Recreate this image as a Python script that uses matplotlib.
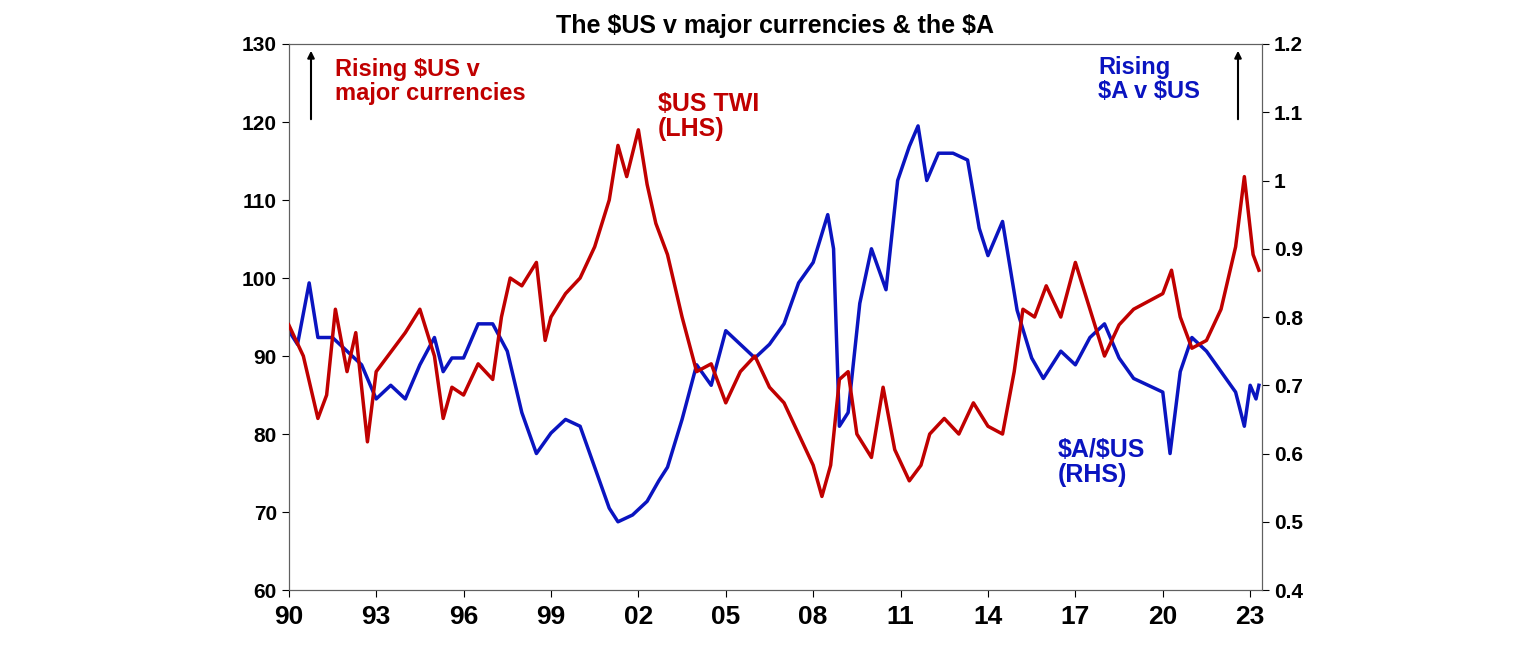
import matplotlib
matplotlib.use("Agg")
import matplotlib.pyplot as plt

twi_t = [1990.0,1990.5,1991.0,1991.3,1991.6,1992.0,1992.3,1992.7,1993.0,1993.4,1994.0,1994.5,1995.0,1995.3,1995.6,1996.0,1996.5,1997.0,1997.3,1997.6,1998.0,1998.5,1998.8,1999.0,1999.5,2000.0,2000.5,2001.0,2001.3,2001.6,2002.0,2002.3,2002.6,2003.0,2003.5,2004.0,2004.5,2005.0,2005.5,2006.0,2006.5,2007.0,2007.5,2008.0,2008.3,2008.6,2008.9,2009.2,2009.5,2010.0,2010.4,2010.8,2011.3,2011.7,2012.0,2012.5,2013.0,2013.5,2014.0,2014.5,2014.9,2015.2,2015.6,2016.0,2016.5,2017.0,2017.5,2018.0,2018.5,2019.0,2019.5,2020.0,2020.3,2020.6,2021.0,2021.5,2022.0,2022.5,2022.8,2023.1,2023.3]
twi_v = [94,90,82,85,96,88,93,79,88,90,93,96,90,82,86,85,89,87,95,100,99,102,92,95,98,100,104,110,117,113,119,112,107,103,95,88,89,84,88,90,86,84,80,76,72,76,87,88,80,77,86,78,74,76,80,82,80,84,81,80,88,96,95,99,95,102,96,90,94,96,97,98,101,95,91,92,96,104,113,103,101]

aud_t = [1990.0,1990.3,1990.7,1991.0,1991.5,1992.0,1992.5,1993.0,1993.5,1994.0,1994.5,1995.0,1995.3,1995.6,1996.0,1996.5,1997.0,1997.5,1998.0,1998.5,1999.0,1999.5,2000.0,2000.5,2001.0,2001.3,2001.8,2002.3,2002.7,2003.0,2003.5,2004.0,2004.5,2005.0,2005.5,2006.0,2006.5,2007.0,2007.5,2008.0,2008.5,2008.7,2008.9,2009.2,2009.6,2010.0,2010.5,2010.9,2011.3,2011.6,2011.9,2012.3,2012.8,2013.3,2013.7,2014.0,2014.5,2015.0,2015.5,2015.9,2016.5,2017.0,2017.5,2018.0,2018.5,2019.0,2019.5,2020.0,2020.25,2020.6,2021.0,2021.5,2022.0,2022.5,2022.8,2023.0,2023.2,2023.3]
aud_v = [0.78,0.76,0.85,0.77,0.77,0.75,0.73,0.68,0.70,0.68,0.73,0.77,0.72,0.74,0.74,0.79,0.79,0.75,0.66,0.60,0.63,0.65,0.64,0.58,0.52,0.50,0.51,0.53,0.56,0.58,0.65,0.73,0.70,0.78,0.76,0.74,0.76,0.79,0.85,0.88,0.95,0.90,0.64,0.66,0.82,0.90,0.84,1.00,1.05,1.08,1.00,1.04,1.04,1.03,0.93,0.89,0.94,0.81,0.74,0.71,0.75,0.73,0.77,0.79,0.74,0.71,0.70,0.69,0.60,0.72,0.77,0.75,0.72,0.69,0.64,0.70,0.68,0.70]

xticks = [1990,1993,1996,1999,2002,2005,2008,2011,2014,2017,2020,2023]
xlabels = ["90","93","96","99","02","05","08","11","14","17","20","23"]

plt.rcParams["font.family"] = "Liberation Sans"
plt.rcParams["font.weight"] = "bold"
plt.rcParams["text.parse_math"] = False
RED = "#C00000"; BLUE = "#0A14C0"

fig = plt.figure(figsize=(15.36, 6.47), dpi=100)
ax = fig.add_axes([0.188, 0.088, 0.6335, 0.844])
ax2 = ax.twinx()
ax.plot(twi_t, twi_v, color=RED, lw=2.5, zorder=3)
ax2.plot(aud_t, aud_v, color=BLUE, lw=2.5)
ax.set_zorder(ax2.get_zorder() + 1); ax.patch.set_visible(False)
ax.set_xlim(1990, 2023.4)
ax.set_ylim(60, 130); ax2.set_ylim(0.4, 1.2)
ax.set_yticks(range(60, 131, 10))
ax2.set_yticks([0.4,0.5,0.6,0.7,0.8,0.9,1.0,1.1,1.2])
ax2.set_yticklabels(["0.4","0.5","0.6","0.7","0.8","0.9","1","1.1","1.2"])
ax.set_xticks(xticks); ax.set_xticklabels(xlabels)
for a in (ax, ax2):
    a.tick_params(labelsize=15, length=5, direction="out")
    for s in a.spines.values(): s.set_color("#606060")
ax.tick_params(axis="x", labelsize=19, pad=6)
for l in ax.get_xticklabels() + ax.get_yticklabels() + ax2.get_yticklabels():
    l.set_fontweight("bold")
ax.set_title("The $US v major currencies & the $A", fontsize=18, fontweight="bold", pad=8)

fig.text(335/1536, 1-58/647, "Rising $US v\nmajor currencies", color=RED, fontsize=17, fontweight="bold", va="top", linespacing=1.05)
fig.text(658/1536, 1-92/647, "$US TWI\n(LHS)", color=RED, fontsize=18, fontweight="bold", va="top", linespacing=1.05)
fig.text(1098/1536, 1-56/647, "Rising\n$A v $US", color=BLUE, fontsize=17, fontweight="bold", va="top", linespacing=1.05)
fig.text(1058/1536, 1-438/647, "$A/$US\n(RHS)", color=BLUE, fontsize=18, fontweight="bold", va="top", linespacing=1.05)
for x in (311, 1238):
    fig.add_artist(matplotlib.patches.FancyArrowPatch((x/1536, 1-122/647), (x/1536, 1-48/647),
        transform=fig.transFigure, arrowstyle="-|>", mutation_scale=10, color="black", lw=1.5))
fig.savefig("out.png", dpi=100)
